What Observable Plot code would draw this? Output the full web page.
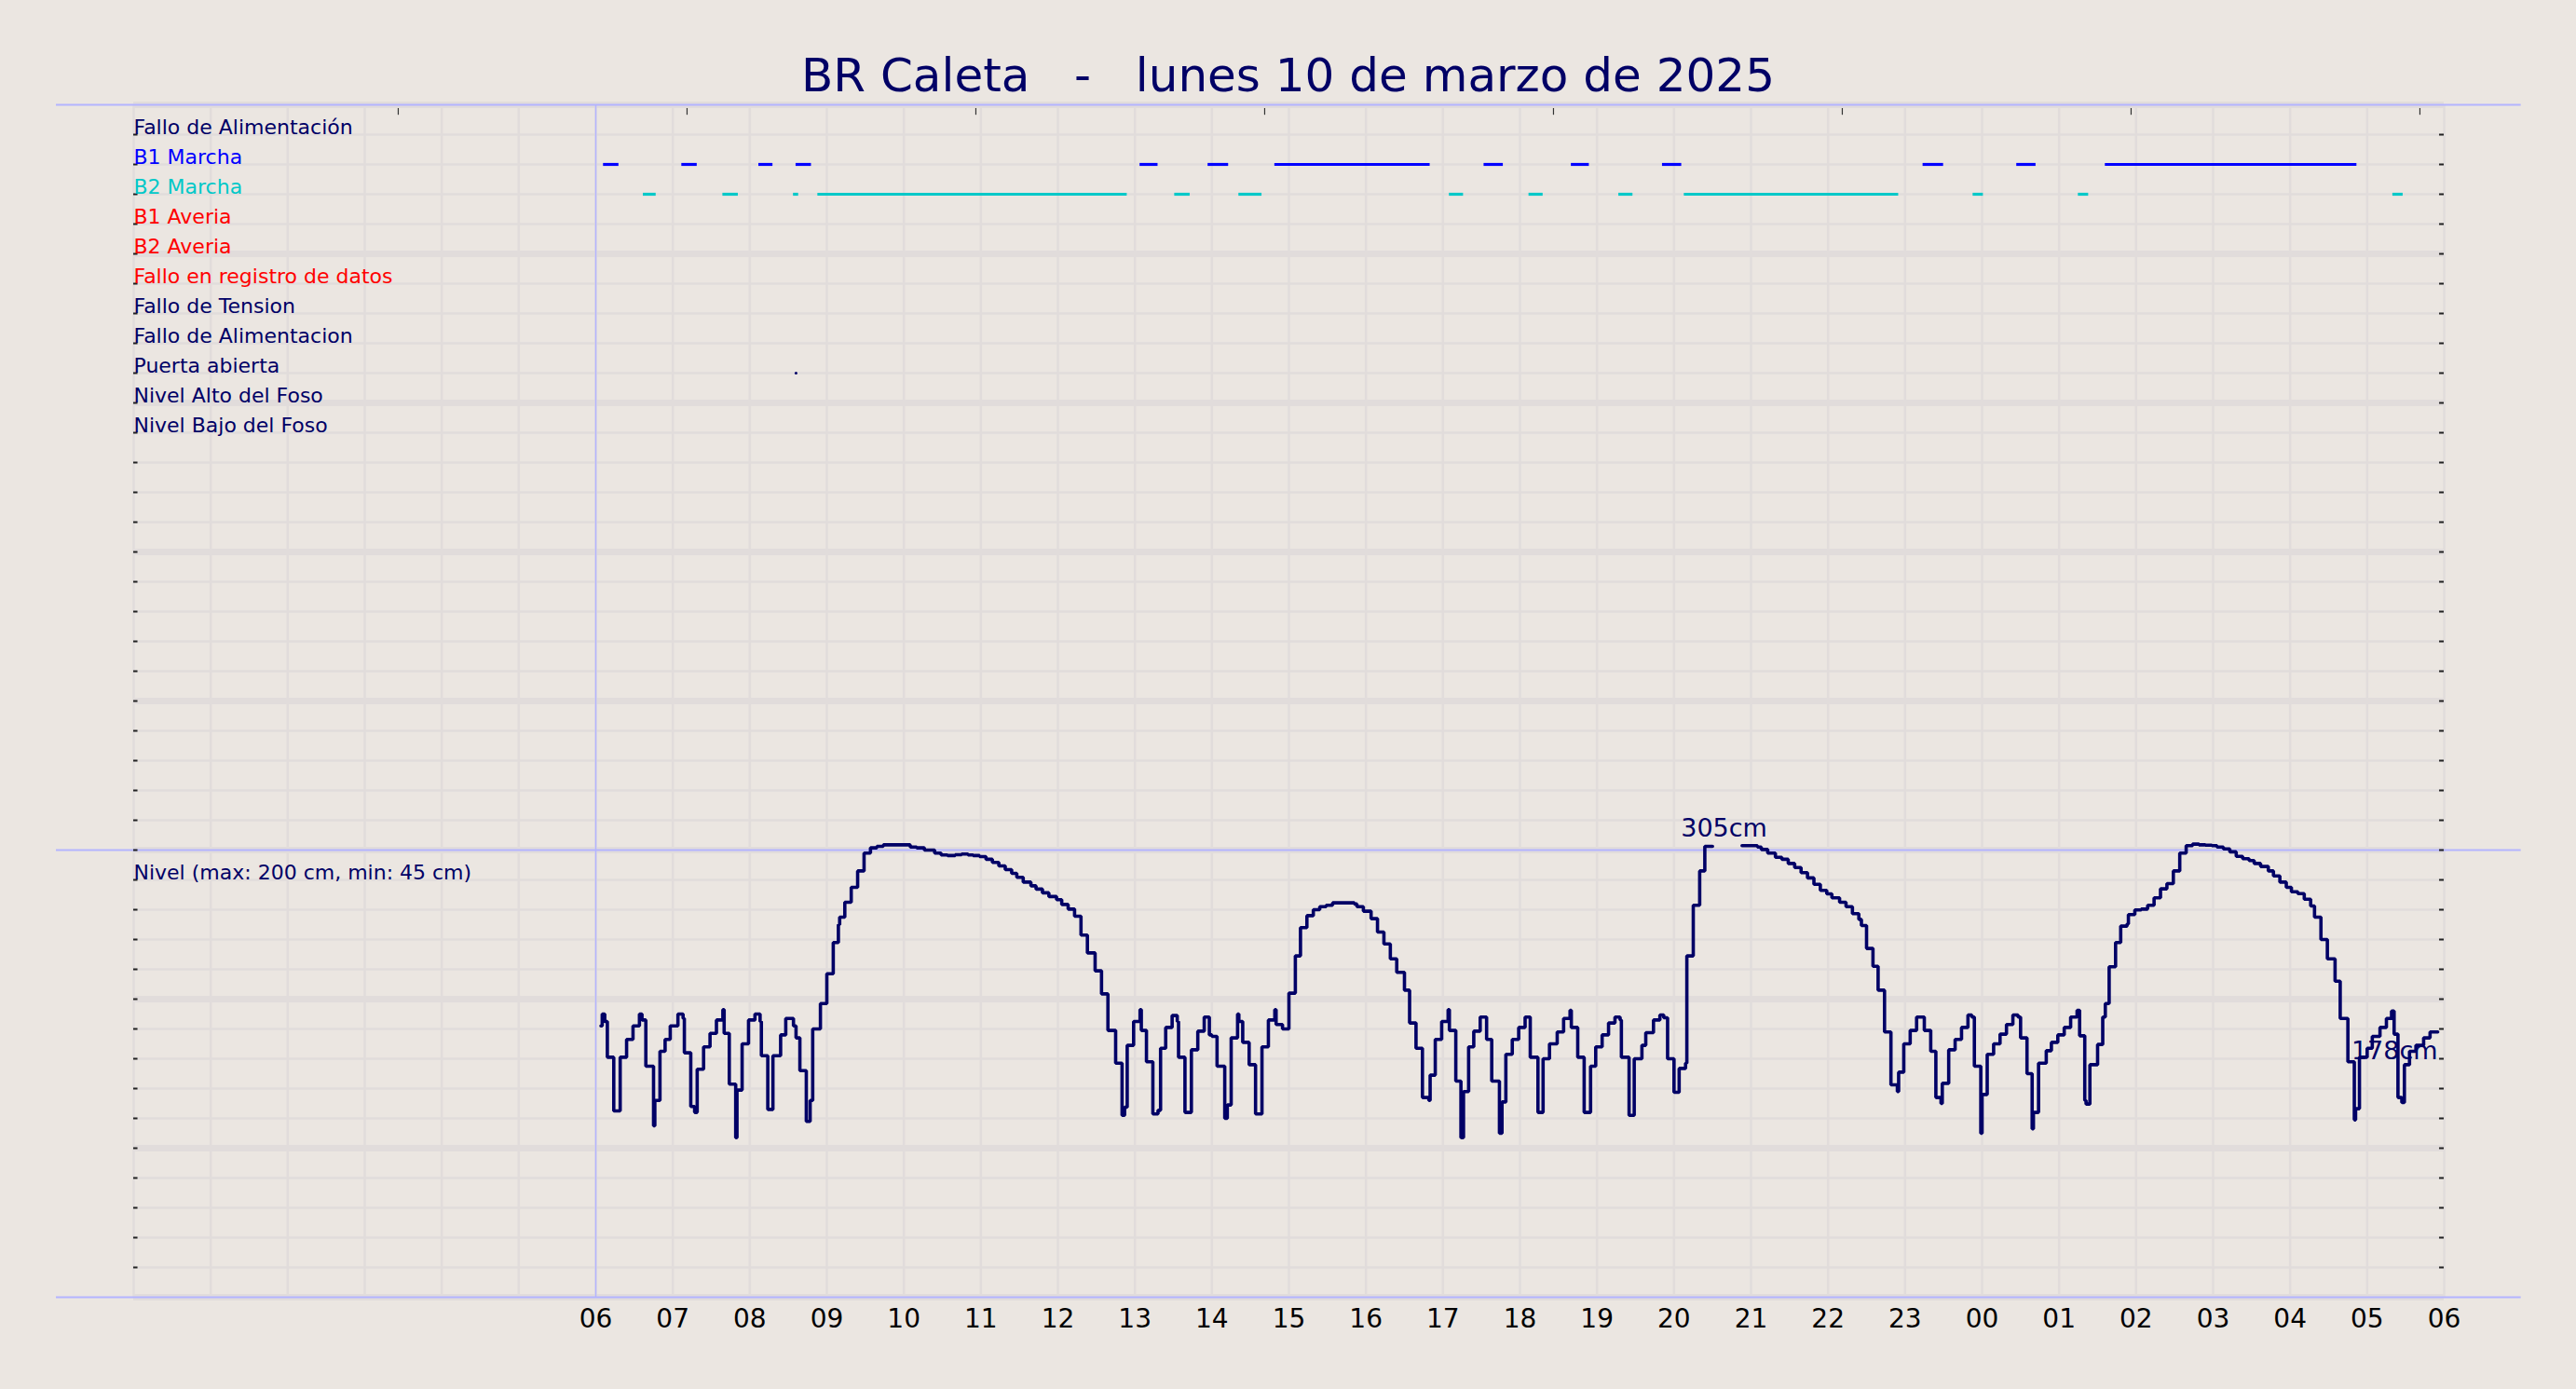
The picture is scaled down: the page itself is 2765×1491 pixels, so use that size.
<!DOCTYPE html>
<html><head><meta charset="utf-8">
<script src="https://cdn.jsdelivr.net/npm/d3@7"></script>
<script src="https://cdn.jsdelivr.net/npm/@observablehq/plot@0.6"></script>
<style>
html,body{margin:0;padding:0;background:#ebe6e1;}
body{position:relative;width:2765px;height:1491px;overflow:hidden;}
#title{position:absolute;left:0;top:56px;width:2765px;text-align:center;font-family:"DejaVu Sans";font-size:50px;line-height:50px;color:#000066;white-space:pre;}
#chart{position:absolute;left:0;top:100px;}
</style></head><body>
<div id="title">BR Caleta   -   lunes 10 de marzo de 2025</div>
<div id="chart"></div>
<script>
// ---- data ----
const categories = ["Fallo de Alimentación","B1 Marcha","B2 Marcha","B1 Averia","B2 Averia","Fallo en registro de datos","Fallo de Tension","Fallo de Alimentacion","Puerta abierta","Nivel Alto del Foso","Nivel Bajo del Foso"];
const categoryColors = ["#000066","#0000ff","#00c8c8","#ff0000","#ff0000","#ff0000","#000066","#000066","#000066","#000066","#000066"];
const levelTitle = "Nivel (max: 200 cm, min: 45 cm)";

// event segments, minutes after 06:00
const b1Start = [6, 67, 127, 156, 424, 477, 529, 692, 760, 831, 1034, 1107, 1176];
const b1End   = [18, 79, 138, 168, 438, 493, 650, 707, 774, 846, 1050, 1122, 1372];
const b2Start = [37, 99, 154, 173, 451, 501, 665, 727, 797, 848, 1073, 1155, 1400];
const b2End   = [47, 111, 158, 414, 463, 519, 676, 738, 808, 1015, 1081, 1163, 1408];
const puertaMin = [156];

// water level (cm), minutes after 06:00 (step changes)
const levelMin = [4,5,7,9,14,19,24,29,34,36,39,45,46,50,54,58,64,68,69,74,77,79,84,89,94,99,100,104,109,110,114,119,124,128,129,134,138,144,148,154,156,159,164,167,169,175,180,185,189,190,194,199,204,209,214,219,224,245,250,256,264,269,274,280,285,290,294,299,304,309,314,319,324,328,333,339,343,348,353,359,363,368,373,378,383,389,394,399,405,410,412,414,419,424,425,429,434,438,440,444,449,453,454,459,464,469,474,478,480,484,490,492,495,500,501,504,509,514,519,524,529,530,535,540,545,549,554,559,564,569,574,591,593,598,604,609,614,619,624,630,634,639,644,649,650,654,659,664,665,670,674,676,680,684,689,694,698,704,706,709,714,719,724,728,734,738,743,749,754,759,760,765,770,775,779,784,789,794,798,799,805,809,815,818,824,829,832,835,840,844,849,850,855,860,864,870,871,893,905,908,913,919,924,929,934,939,944,949,954,959,963,969,974,979,984,986,990,995,999,1004,1009,1014,1015,1019,1024,1029,1035,1040,1044,1048,1049,1054,1059,1064,1069,1072,1074,1079,1080,1084,1089,1094,1099,1104,1108,1110,1115,1119,1120,1124,1130,1134,1139,1144,1149,1154,1156,1160,1161,1164,1170,1174,1176,1179,1184,1188,1193,1194,1199,1204,1209,1214,1219,1224,1229,1234,1239,1244,1249,1254,1259,1263,1268,1273,1278,1283,1288,1292,1297,1303,1307,1312,1317,1321,1326,1331,1336,1339,1344,1349,1355,1359,1365,1370,1371,1374,1380,1384,1390,1395,1399,1401,1404,1407,1409,1413,1418,1424,1429,1435];
const levelCm = [182,190,185,161,125,161,173,182,190,186,155,115,132,165,173,182,190,187,164,128,124,153,168,177,186,193,177,143,107,139,170,186,190,185,162,126,162,176,187,182,174,152,118,132,180,197,217,238,250,255,265,275,286,298,301.5,302.5,303.5,302,301.5,300,298,296.7,296.3,296.9,297.3,296.7,296.3,295.6,293.8,291.7,289.4,286.9,284.4,281.7,278.5,276,273.8,271.3,268.8,266.7,263.5,260.4,255.6,243,231,219,203.5,179,157,122,127.5,169,185,193,179,158,123,125.4,167,181,189,185,161,124,166,178.5,188,176,175,155,120,129,174,190,185,171,156,123,168,186,193,183,180,204,229,248,256,260,262,263,264.6,263.8,262,259,254,245,237,227,218,206,184,167,134,132,149,173,185,193,179,145,107,138,168,178.5,188,173,145,110,131,163,173,181,188,161,124,160,170,178,187,192.5,181,161,124,155,168,176,184,188,186,161,122,160,169,177.5,186,189.4,187.5,160,137.5,153.5,157,229,263,286,302.5,302.5,NaN,303,302,300.4,298,295.2,293.8,291,288.3,284.8,281.3,277,273,270.6,268,265,262,257.3,253.5,249.4,234,222,206,178,142.5,138,151,170,179,188,179,165,134,130,143.5,166,173,181,189.4,188,155,110,136,163,170,176.5,183,189.4,188,174,150,113,124,157,165.4,171,176,181,188,192.5,175.4,132,129.6,156,169.6,188,197,221.7,238,249,250.4,256.7,259.8,260.4,263,268,274,277.5,286,298,303,304,303.5,303.3,303,302,300.8,298.8,295.8,294.2,293,291,289,286,282.7,278.5,275,272,270.8,267,262.5,255,240,227,212,187,158,119,126.5,161,167,175,181,187,192,176.5,134,130.6,156,165,169,174,178,178];

// annotations
const annotMin = [879, 1435];
const annotCm = [305, 178];
const annotText = ["305cm", "178cm"];

// axis
const hourTicks = d3.range(6, 31);
const hourLabels = ["06","07","08","09","10","11","12","13","14","15","16","17","18","19","20","21","22","23","00","01","02","03","04","05","06"];
const topTicks = [3.435, 7.185, 10.935, 14.685, 18.435, 22.185, 25.935, 29.685];

// ---- build ----
const navy = "#000066", grid = "#e1dcdb", blueLine = "#b4b4ff";
const toH = m => 6 + m / 60;
const rowY = i => 780 - 20 * i;
const gridVals = d3.range(0, 801, 20);
const level = levelMin.map((m, i) => ({h: toH(m), v: levelCm[i]}));
const seg = (s, e) => s.map((d, i) => ({a: toH(d), b: toH(e[i])}));
const cats = categories.map((c, i) => ({c, y: rowY(i), col: categoryColors[i]}));
const annots = annotMin.map((m, i) => ({h: toH(m), v: annotCm[i], t: annotText[i]}));

const chart = Plot.plot({
  width: 2765, height: 1391,
  marginTop: 12, marginBottom: 99, marginLeft: 143, marginRight: 142,
  x: {domain: [0, 30]},
  y: {domain: [0, 800], axis: null},
  style: {background: "transparent", fontFamily: "DejaVu Sans", overflow: "visible"},
  marks: [
    Plot.ruleX(d3.range(0, 31), {stroke: grid, strokeWidth: 2.5}),
    Plot.ruleY(gridVals.filter(d => d % 100 !== 0), {stroke: grid, strokeWidth: 2.5}),
    Plot.ruleY(gridVals.filter(d => d % 100 === 0), {stroke: grid, strokeWidth: 7}),
    Plot.ruleY([800, 300, 0], {x1: -1.004, x2: 31.0, stroke: blueLine, strokeWidth: 2}),
    Plot.ruleX([6], {stroke: blueLine, strokeWidth: 1.5}),
    Plot.ruleY(gridVals.filter(d => d > 0 && d < 800), {x1: 0, x2: 0.055, stroke: "#222", strokeWidth: 2}),
    Plot.ruleY(gridVals.filter(d => d > 0 && d < 800), {x1: 29.94, x2: 30, stroke: "#222", strokeWidth: 2}),
    Plot.ruleX(topTicks, {y1: 793, y2: 797.5, stroke: "#333", strokeWidth: 1.2}),
    Plot.ruleY(seg(b1Start, b1End), {x1: "a", x2: "b", y: rowY(1), stroke: "#0000ff", strokeWidth: 3.2}),
    Plot.ruleY(seg(b2Start, b2End), {x1: "a", x2: "b", y: rowY(2), stroke: "#00c8c8", strokeWidth: 3.2}),
    Plot.dot(puertaMin, {x: d => toH(d), y: rowY(8), r: 1.5, fill: navy, stroke: null}),
    Plot.line(level, {x: "h", y: "v", curve: "step-after", stroke: navy, strokeWidth: 3.6, strokeLinejoin: "miter"}),
    Plot.text(cats, {x: 0, y: "y", text: "c", fill: "col", textAnchor: "start", lineAnchor: "middle", dy: -8, fontSize: 22}),
    Plot.text([levelTitle], {x: 0, y: 280, text: d => d, fill: navy, textAnchor: "start", lineAnchor: "middle", dy: -8, fontSize: 22}),
    Plot.text(annots.slice(0, 1), {x: "h", y: "v", text: "t", fill: navy, textAnchor: "middle", lineAnchor: "middle", dy: -15, fontSize: 27}),
    Plot.text(annots.slice(1), {x: "h", y: "v", text: "t", fill: navy, textAnchor: "end", lineAnchor: "middle", dy: 21, fontSize: 27}),
    Plot.axisX(hourTicks, {anchor: "bottom", tickSize: 0, tickPadding: 13, fontSize: 28, fill: "black", tickFormat: d => hourLabels[d - 6]})
  ]
});
document.getElementById("chart").appendChild(chart);
</script>
</body></html>
